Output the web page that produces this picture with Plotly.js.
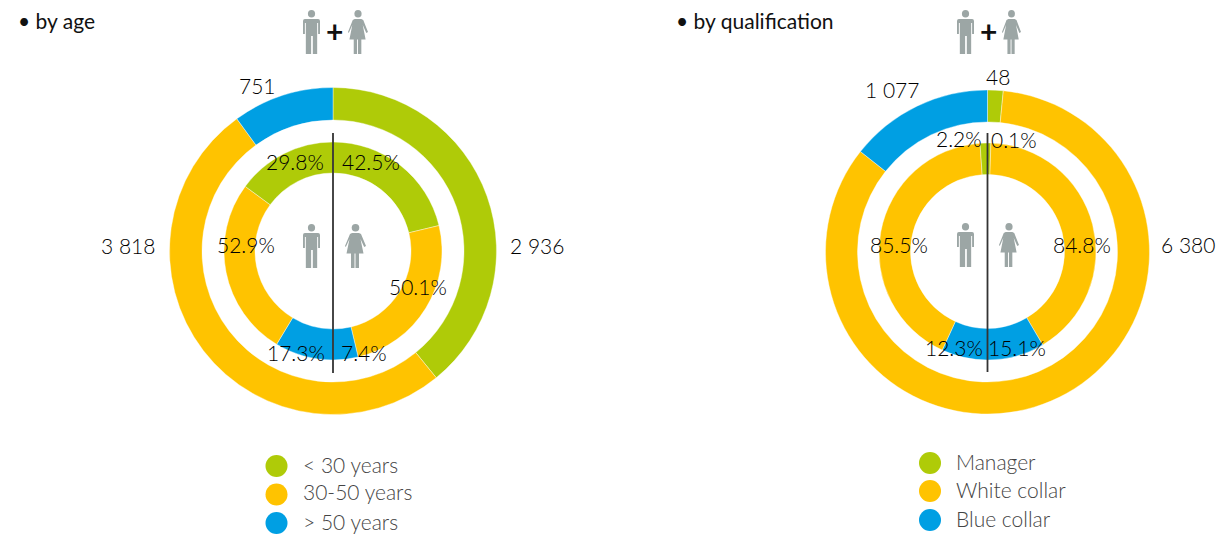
<!DOCTYPE html>
<html>
<head>
<meta charset="utf-8">
<script src="https://cdn.plot.ly/plotly-3.0.1.min.js"></script>
<style>html,body{margin:0;padding:0;background:#fff}#chart{width:1218px;height:538px}</style>
</head>
<body>
<div id="chart"></div>
<script>
// ---- data ----
const ageCategories = ['< 30 years', '30-50 years', '> 50 years'];
const qualCategories = ['Manager', 'White collar', 'Blue collar'];
const ageTotals = [2936, 3818, 751];
const ageWomen = [42.5, 50.1, 7.4];
const ageMen = [29.8, 52.9, 17.3];
// arc sizes as drawn in the rings of the qualification chart
const qualTotals = [117, 6311, 1077];
const qualWomen = [1, 82, 17];
const qualMen = [2.2, 84.1, 13.7];
// printed labels
const ageTotalLabels = ['2 936', '3 818', '751'];
const ageWomenLabels = ['42.5%', '50.1%', '7.4%'];
const ageMenLabels = ['29.8%', '52.9%', '17.3%'];
const qualTotalLabels = ['48', '6 380', '1 077'];
const qualWomenLabels = ['0.1%', '84.8%', '15.1%'];
const qualMenLabels = ['2.2%', '85.5%', '12.3%'];

// ---- style ----
const W = 1218, H = 538;
const colors = ['#AFCB08', '#FFC300', '#009FE3'];
const grey = '#9CA6A5';
const FONT = 'Lato, "Open Sans", sans-serif';
const px = x => x / W;
const py = y => 1 - y / H;

function ring(values, cx, cy, r, hole, cols) {
  return {
    type: 'pie', values: values, sort: false, direction: 'clockwise', rotation: 0,
    hole: hole, textinfo: 'none', hoverinfo: 'skip', showlegend: false,
    marker: { colors: cols, line: { color: '#ffffff', width: 0.4 } },
    domain: { x: [px(cx - r), px(cx + r)], y: [py(cy + r), py(cy - r)] }
  };
}
// inner ring: women clockwise down the right half, men continue up the left half
const half = (w, m) => w.concat(m.slice().reverse());
const halfCols = colors.concat(colors.slice().reverse());

const traces = [
  ring(ageTotals, 333, 251, 163.5, 131 / 163.5, colors),
  ring(half(ageWomen, ageMen), 333, 251, 109, 78 / 109, halfCols),
  ring(qualTotals, 987.5, 252, 162, 130 / 162, colors),
  ring(half(qualWomen, qualMen), 987.5, 251.5, 108.5, 77 / 108.5, halfCols)
];

function txt(text, x, y, size, color, anchor, weight) {
  return {
    text: text, x: px(x), y: py(y), xref: 'paper', yref: 'paper', showarrow: false,
    xanchor: anchor || 'center', yanchor: 'middle',
    font: { family: FONT, size: size, color: color || '#000', weight: weight || 300 }
  };
}
const SZ = 21;
const annotations = [
  txt('• by age', 16, 20, 21, '#111', 'left', 400),
  txt('• by qualification', 674, 20, 21, '#111', 'left', 400),
  txt('+', 334, 31, 30, '#111', 'center', 700),
  txt('+', 988, 31, 30, '#111', 'center', 700),
  // age totals
  txt(ageTotalLabels[0], 537, 245, SZ),
  txt(ageTotalLabels[1], 128, 245, SZ),
  txt(ageTotalLabels[2], 257, 86, SZ),
  // age inner
  txt(ageWomenLabels[0], 371, 162, SZ),
  txt(ageWomenLabels[1], 418, 286, SZ),
  txt(ageWomenLabels[2], 364, 352, SZ),
  txt(ageMenLabels[0], 295, 162, SZ),
  txt(ageMenLabels[1], 246, 244, SZ),
  txt(ageMenLabels[2], 296, 352, SZ),
  // qualification totals
  txt(qualTotalLabels[0], 998, 77, SZ),
  txt(qualTotalLabels[1], 1188, 244, SZ),
  txt(qualTotalLabels[2], 892, 90, SZ),
  // qualification inner
  txt(qualWomenLabels[0], 1013.5, 139, SZ),
  txt(qualWomenLabels[1], 1081.5, 244, SZ),
  txt(qualWomenLabels[2], 1017, 347, SZ),
  txt(qualMenLabels[0], 958.5, 138, SZ),
  txt(qualMenLabels[1], 899, 244, SZ),
  txt(qualMenLabels[2], 954, 347, SZ)
];

const shapes = [
  { type: 'line', xref: 'paper', yref: 'paper', x0: px(333), x1: px(333), y0: py(133), y1: py(373), line: { color: '#333', width: 1.8 } },
  { type: 'line', xref: 'paper', yref: 'paper', x0: px(987.5), x1: px(987.5), y0: py(133), y1: py(372), line: { color: '#333', width: 1.8 } }
];

function legend(cats, cx, tx, ys, tys) {
  cats.forEach((c, i) => {
    const r = 11;
    shapes.push({ type: 'circle', xref: 'paper', yref: 'paper', x0: px(cx - r), x1: px(cx + r), y0: py(ys[i] + r), y1: py(ys[i] - r), fillcolor: colors[i], line: { width: 0 } });
    annotations.push(txt(c, tx, tys[i], 21, '#444', 'left'));
  });
}
legend(ageCategories, 276.5, 301, [466, 494.5, 523], [464, 492, 521]);
legend(qualCategories, 930, 954, [463, 491, 520], [461, 489, 518]);

// ---- pictograms ----
const manSvg = `<svg xmlns="http://www.w3.org/2000/svg" viewBox="0 0 18 44"><circle cx="9" cy="3.8" r="3.8" fill="${grey}"/><path fill="${grey}" d="M2 9h14a2 2 0 0 1 2 2v13h-2V13h-1v10.5V44h-4.6V26H8.600000000000001V44H3V13H2v11H0V11a2 2 0 0 1 2-2z"/></svg>`;
const womanSvg = `<svg xmlns="http://www.w3.org/2000/svg" viewBox="0 0 21 44"><circle cx="10.5" cy="3.8" r="3.8" fill="${grey}"/><path fill="${grey}" d="M7 9h7l2 1 5 12-1.800 1-3.700-8 3 14.500h-4.500V44h-3.500V29.500h-1V44H6V29.500H1.500l3-14.500-3.700 8L0 22l5-12z"/></svg>`;
const uri = s => 'data:image/svg+xml;base64,' + btoa(s);
function icon(svg, x0, x1, y0, y1) {
  return { source: uri(svg), xref: 'paper', yref: 'paper', x: px(x0), y: py(y0), sizex: px(x1) - px(x0), sizey: (y1 - y0) / H, xanchor: 'left', yanchor: 'top', sizing: 'stretch', layer: 'above' };
}
const images = [
  icon(manSvg, 303, 320, 10, 54), icon(womanSvg, 348, 368, 10, 54),
  icon(manSvg, 303, 320, 224, 268), icon(womanSvg, 345, 366, 224, 268),
  icon(manSvg, 957, 974, 10, 54), icon(womanSvg, 1002, 1021, 10, 54),
  icon(manSvg, 957, 974, 223, 267), icon(womanSvg, 999, 1019, 223, 267)
];

Plotly.newPlot('chart', traces, {
  width: W, height: H, margin: { l: 0, r: 0, t: 0, b: 0 },
  paper_bgcolor: '#fff', plot_bgcolor: '#fff',
  shapes: shapes, annotations: annotations, images: images
}, { displayModeBar: false, staticPlot: true });
</script>
</body>
</html>
